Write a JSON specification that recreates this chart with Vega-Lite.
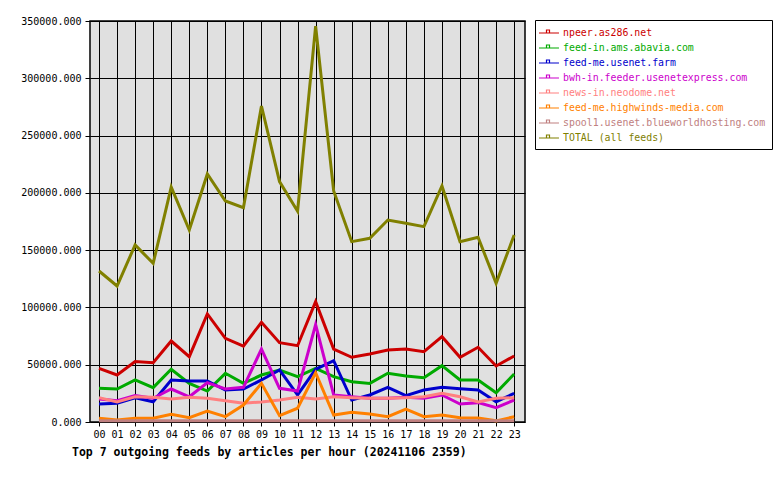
{
  "$schema": "https://vega.github.io/schema/vega-lite/v6.json",
  "width": 435,
  "height": 401,
  "autosize": {"type": "none"},
  "padding": {"left": 90, "top": 21, "right": 255, "bottom": 58},
  "background": "white",
  "config": {
    "view": {"fill": "#e0e0e0", "stroke": "black", "strokeWidth": 1.5},
    "font": "DejaVu Sans Mono"
  },
  "title": {
    "text": "Top 7 outgoing feeds by articles per hour (20241106 2359)",
    "orient": "bottom",
    "anchor": "start",
    "frame": "group",
    "dx": -18,
    "offset": 8,
    "font": "DejaVu Sans Mono",
    "fontSize": 11.5,
    "fontWeight": "bold",
    "color": "black"
  },
  "datasets": {
    "feeds": [
      {"h":0,"f":"npeer.as286.net","v":46800},{"h":1,"f":"npeer.as286.net","v":41000},{"h":2,"f":"npeer.as286.net","v":52700},{"h":3,"f":"npeer.as286.net","v":51800},{"h":4,"f":"npeer.as286.net","v":70700},{"h":5,"f":"npeer.as286.net","v":57000},{"h":6,"f":"npeer.as286.net","v":94300},{"h":7,"f":"npeer.as286.net","v":73000},{"h":8,"f":"npeer.as286.net","v":66300},{"h":9,"f":"npeer.as286.net","v":87000},{"h":10,"f":"npeer.as286.net","v":69200},{"h":11,"f":"npeer.as286.net","v":66600},{"h":12,"f":"npeer.as286.net","v":105000},{"h":13,"f":"npeer.as286.net","v":63700},{"h":14,"f":"npeer.as286.net","v":56500},{"h":15,"f":"npeer.as286.net","v":59300},{"h":16,"f":"npeer.as286.net","v":62800},{"h":17,"f":"npeer.as286.net","v":63700},{"h":18,"f":"npeer.as286.net","v":61400},{"h":19,"f":"npeer.as286.net","v":74500},{"h":20,"f":"npeer.as286.net","v":56500},{"h":21,"f":"npeer.as286.net","v":65200},{"h":22,"f":"npeer.as286.net","v":48900},{"h":23,"f":"npeer.as286.net","v":57600},
      {"h":0,"f":"feed-in.ams.abavia.com","v":29400},{"h":1,"f":"feed-in.ams.abavia.com","v":28800},{"h":2,"f":"feed-in.ams.abavia.com","v":36700},{"h":3,"f":"feed-in.ams.abavia.com","v":30000},{"h":4,"f":"feed-in.ams.abavia.com","v":46000},{"h":5,"f":"feed-in.ams.abavia.com","v":33700},{"h":6,"f":"feed-in.ams.abavia.com","v":27000},{"h":7,"f":"feed-in.ams.abavia.com","v":42500},{"h":8,"f":"feed-in.ams.abavia.com","v":33700},{"h":9,"f":"feed-in.ams.abavia.com","v":41000},{"h":10,"f":"feed-in.ams.abavia.com","v":45400},{"h":11,"f":"feed-in.ams.abavia.com","v":39600},{"h":12,"f":"feed-in.ams.abavia.com","v":46800},{"h":13,"f":"feed-in.ams.abavia.com","v":39600},{"h":14,"f":"feed-in.ams.abavia.com","v":35200},{"h":15,"f":"feed-in.ams.abavia.com","v":33700},{"h":16,"f":"feed-in.ams.abavia.com","v":42500},{"h":17,"f":"feed-in.ams.abavia.com","v":40100},{"h":18,"f":"feed-in.ams.abavia.com","v":38700},{"h":19,"f":"feed-in.ams.abavia.com","v":49200},{"h":20,"f":"feed-in.ams.abavia.com","v":36700},{"h":21,"f":"feed-in.ams.abavia.com","v":36700},{"h":22,"f":"feed-in.ams.abavia.com","v":25600},{"h":23,"f":"feed-in.ams.abavia.com","v":41900},
      {"h":0,"f":"feed-me.usenet.farm","v":15700},{"h":1,"f":"feed-me.usenet.farm","v":16300},{"h":2,"f":"feed-me.usenet.farm","v":21200},{"h":3,"f":"feed-me.usenet.farm","v":17700},{"h":4,"f":"feed-me.usenet.farm","v":36700},{"h":5,"f":"feed-me.usenet.farm","v":35800},{"h":6,"f":"feed-me.usenet.farm","v":35800},{"h":7,"f":"feed-me.usenet.farm","v":27900},{"h":8,"f":"feed-me.usenet.farm","v":28800},{"h":9,"f":"feed-me.usenet.farm","v":36700},{"h":10,"f":"feed-me.usenet.farm","v":45400},{"h":11,"f":"feed-me.usenet.farm","v":23600},{"h":12,"f":"feed-me.usenet.farm","v":46000},{"h":13,"f":"feed-me.usenet.farm","v":53500},{"h":14,"f":"feed-me.usenet.farm","v":19200},{"h":15,"f":"feed-me.usenet.farm","v":23600},{"h":16,"f":"feed-me.usenet.farm","v":30300},{"h":17,"f":"feed-me.usenet.farm","v":23000},{"h":18,"f":"feed-me.usenet.farm","v":27900},{"h":19,"f":"feed-me.usenet.farm","v":30300},{"h":20,"f":"feed-me.usenet.farm","v":29000},{"h":21,"f":"feed-me.usenet.farm","v":27900},{"h":22,"f":"feed-me.usenet.farm","v":17700},{"h":23,"f":"feed-me.usenet.farm","v":25000},
      {"h":0,"f":"bwh-in.feeder.usenetexpress.com","v":20000},{"h":1,"f":"bwh-in.feeder.usenetexpress.com","v":18600},{"h":2,"f":"bwh-in.feeder.usenetexpress.com","v":23000},{"h":3,"f":"bwh-in.feeder.usenetexpress.com","v":20700},{"h":4,"f":"bwh-in.feeder.usenetexpress.com","v":28800},{"h":5,"f":"bwh-in.feeder.usenetexpress.com","v":22000},{"h":6,"f":"bwh-in.feeder.usenetexpress.com","v":34300},{"h":7,"f":"bwh-in.feeder.usenetexpress.com","v":28800},{"h":8,"f":"bwh-in.feeder.usenetexpress.com","v":30300},{"h":9,"f":"bwh-in.feeder.usenetexpress.com","v":63700},{"h":10,"f":"bwh-in.feeder.usenetexpress.com","v":29400},{"h":11,"f":"bwh-in.feeder.usenetexpress.com","v":27000},{"h":12,"f":"bwh-in.feeder.usenetexpress.com","v":85000},{"h":13,"f":"bwh-in.feeder.usenetexpress.com","v":23600},{"h":14,"f":"bwh-in.feeder.usenetexpress.com","v":22000},{"h":15,"f":"bwh-in.feeder.usenetexpress.com","v":20700},{"h":16,"f":"bwh-in.feeder.usenetexpress.com","v":20700},{"h":17,"f":"bwh-in.feeder.usenetexpress.com","v":21500},{"h":18,"f":"bwh-in.feeder.usenetexpress.com","v":20700},{"h":19,"f":"bwh-in.feeder.usenetexpress.com","v":23600},{"h":20,"f":"bwh-in.feeder.usenetexpress.com","v":15700},{"h":21,"f":"bwh-in.feeder.usenetexpress.com","v":16900},{"h":22,"f":"bwh-in.feeder.usenetexpress.com","v":12500},{"h":23,"f":"bwh-in.feeder.usenetexpress.com","v":19200},
      {"h":0,"f":"news-in.neodome.net","v":21300},{"h":1,"f":"news-in.neodome.net","v":17500},{"h":2,"f":"news-in.neodome.net","v":22000},{"h":3,"f":"news-in.neodome.net","v":21500},{"h":4,"f":"news-in.neodome.net","v":20000},{"h":5,"f":"news-in.neodome.net","v":21500},{"h":6,"f":"news-in.neodome.net","v":20700},{"h":7,"f":"news-in.neodome.net","v":18600},{"h":8,"f":"news-in.neodome.net","v":16300},{"h":9,"f":"news-in.neodome.net","v":17500},{"h":10,"f":"news-in.neodome.net","v":19200},{"h":11,"f":"news-in.neodome.net","v":21500},{"h":12,"f":"news-in.neodome.net","v":20000},{"h":13,"f":"news-in.neodome.net","v":22000},{"h":14,"f":"news-in.neodome.net","v":21200},{"h":15,"f":"news-in.neodome.net","v":20700},{"h":16,"f":"news-in.neodome.net","v":20700},{"h":17,"f":"news-in.neodome.net","v":21200},{"h":18,"f":"news-in.neodome.net","v":22000},{"h":19,"f":"news-in.neodome.net","v":25000},{"h":20,"f":"news-in.neodome.net","v":22000},{"h":21,"f":"news-in.neodome.net","v":17500},{"h":22,"f":"news-in.neodome.net","v":20700},{"h":23,"f":"news-in.neodome.net","v":21200},
      {"h":0,"f":"feed-me.highwinds-media.com","v":3200},{"h":1,"f":"feed-me.highwinds-media.com","v":1700},{"h":2,"f":"feed-me.highwinds-media.com","v":3200},{"h":3,"f":"feed-me.highwinds-media.com","v":3200},{"h":4,"f":"feed-me.highwinds-media.com","v":6700},{"h":5,"f":"feed-me.highwinds-media.com","v":3800},{"h":6,"f":"feed-me.highwinds-media.com","v":9600},{"h":7,"f":"feed-me.highwinds-media.com","v":4700},{"h":8,"f":"feed-me.highwinds-media.com","v":14800},{"h":9,"f":"feed-me.highwinds-media.com","v":33700},{"h":10,"f":"feed-me.highwinds-media.com","v":5500},{"h":11,"f":"feed-me.highwinds-media.com","v":12000},{"h":12,"f":"feed-me.highwinds-media.com","v":43000},{"h":13,"f":"feed-me.highwinds-media.com","v":6100},{"h":14,"f":"feed-me.highwinds-media.com","v":8400},{"h":15,"f":"feed-me.highwinds-media.com","v":7000},{"h":16,"f":"feed-me.highwinds-media.com","v":4600},{"h":17,"f":"feed-me.highwinds-media.com","v":11300},{"h":18,"f":"feed-me.highwinds-media.com","v":4600},{"h":19,"f":"feed-me.highwinds-media.com","v":6100},{"h":20,"f":"feed-me.highwinds-media.com","v":3800},{"h":21,"f":"feed-me.highwinds-media.com","v":3500},{"h":22,"f":"feed-me.highwinds-media.com","v":1000},{"h":23,"f":"feed-me.highwinds-media.com","v":4600},
      {"h":0,"f":"spool1.usenet.blueworldhosting.com","v":1200},{"h":1,"f":"spool1.usenet.blueworldhosting.com","v":1200},{"h":2,"f":"spool1.usenet.blueworldhosting.com","v":1200},{"h":3,"f":"spool1.usenet.blueworldhosting.com","v":1200},{"h":4,"f":"spool1.usenet.blueworldhosting.com","v":1200},{"h":5,"f":"spool1.usenet.blueworldhosting.com","v":1200},{"h":6,"f":"spool1.usenet.blueworldhosting.com","v":1200},{"h":7,"f":"spool1.usenet.blueworldhosting.com","v":1200},{"h":8,"f":"spool1.usenet.blueworldhosting.com","v":1200},{"h":9,"f":"spool1.usenet.blueworldhosting.com","v":1200},{"h":10,"f":"spool1.usenet.blueworldhosting.com","v":1200},{"h":11,"f":"spool1.usenet.blueworldhosting.com","v":1200},{"h":12,"f":"spool1.usenet.blueworldhosting.com","v":1200},{"h":13,"f":"spool1.usenet.blueworldhosting.com","v":1200},{"h":14,"f":"spool1.usenet.blueworldhosting.com","v":1200},{"h":15,"f":"spool1.usenet.blueworldhosting.com","v":1200},{"h":16,"f":"spool1.usenet.blueworldhosting.com","v":1200},{"h":17,"f":"spool1.usenet.blueworldhosting.com","v":1200},{"h":18,"f":"spool1.usenet.blueworldhosting.com","v":1200},{"h":19,"f":"spool1.usenet.blueworldhosting.com","v":1200},{"h":20,"f":"spool1.usenet.blueworldhosting.com","v":1200},{"h":21,"f":"spool1.usenet.blueworldhosting.com","v":1200},{"h":22,"f":"spool1.usenet.blueworldhosting.com","v":1200},{"h":23,"f":"spool1.usenet.blueworldhosting.com","v":1200},
      {"h":0,"f":"TOTAL (all feeds)","v":131800},{"h":1,"f":"TOTAL (all feeds)","v":118700},{"h":2,"f":"TOTAL (all feeds)","v":154500},{"h":3,"f":"TOTAL (all feeds)","v":138500},{"h":4,"f":"TOTAL (all feeds)","v":205000},{"h":5,"f":"TOTAL (all feeds)","v":167600},{"h":6,"f":"TOTAL (all feeds)","v":216500},{"h":7,"f":"TOTAL (all feeds)","v":192900},{"h":8,"f":"TOTAL (all feeds)","v":187000},{"h":9,"f":"TOTAL (all feeds)","v":275800},{"h":10,"f":"TOTAL (all feeds)","v":209800},{"h":11,"f":"TOTAL (all feeds)","v":184000},{"h":12,"f":"TOTAL (all feeds)","v":345600},{"h":13,"f":"TOTAL (all feeds)","v":201600},{"h":14,"f":"TOTAL (all feeds)","v":157400},{"h":15,"f":"TOTAL (all feeds)","v":160300},{"h":16,"f":"TOTAL (all feeds)","v":176300},{"h":17,"f":"TOTAL (all feeds)","v":173400},{"h":18,"f":"TOTAL (all feeds)","v":170500},{"h":19,"f":"TOTAL (all feeds)","v":206000},{"h":20,"f":"TOTAL (all feeds)","v":157400},{"h":21,"f":"TOTAL (all feeds)","v":161200},{"h":22,"f":"TOTAL (all feeds)","v":121000},{"h":23,"f":"TOTAL (all feeds)","v":163200}
    ]
  },
  "data": {"name": "feeds"},
  "mark": {"type": "line", "strokeWidth": 3, "strokeJoin": "miter", "strokeCap": "butt"},
  "encoding": {
    "x": {
      "field": "h",
      "type": "quantitative",
      "scale": {"domain": [-0.5, 23.6], "nice": false, "zero": false},
      "axis": {
        "title": null,
        "values": [0,1,2,3,4,5,6,7,8,9,10,11,12,13,14,15,16,17,18,19,20,21,22,23],
        "format": "02d",
        "grid": true,
        "gridColor": "black",
        "gridOpacity": 1,
        "gridWidth": 1,
        "domain": false,
        "tickColor": "black",
        "tickSize": 4,
        "labelPadding": 3,
        "labelFont": "DejaVu Sans Mono",
        "labelFontSize": 10,
        "labelColor": "black",
        "labelFlush": false
      }
    },
    "y": {
      "field": "v",
      "type": "quantitative",
      "scale": {"domain": [0, 350000], "nice": false},
      "axis": {
        "title": null,
        "values": [0, 50000, 100000, 150000, 200000, 250000, 300000, 350000],
        "format": ".3f",
        "grid": true,
        "gridColor": "black",
        "gridOpacity": 1,
        "gridWidth": 1,
        "domain": false,
        "tickColor": "black",
        "tickSize": 5,
        "labelPadding": 4,
        "labelFont": "DejaVu Sans Mono",
        "labelFontSize": 10,
        "labelColor": "black",
        "labelFlush": false
      }
    },
    "color": {
      "field": "f",
      "type": "nominal",
      "sort": null,
      "scale": {
        "domain": ["npeer.as286.net", "feed-in.ams.abavia.com", "feed-me.usenet.farm", "bwh-in.feeder.usenetexpress.com", "news-in.neodome.net", "feed-me.highwinds-media.com", "spool1.usenet.blueworldhosting.com", "TOTAL (all feeds)"],
        "range": ["#cc0000", "#00aa00", "#0000cc", "#cc00cc", "#ff8080", "#ff8000", "#c08080", "#808000"]
      },
      "legend": {
        "title": null,
        "orient": "none",
        "legendX": 445,
        "legendY": -1,
        "direction": "vertical",
        "fillColor": "white",
        "strokeColor": "black",
        "padding": 6,
        "symbolType": "M-1.5,0H1.83M-0.25,-0.5H0.25V0H-0.25Z",
        "symbolSize": 144,
        "symbolStrokeWidth": 1.2,
        "labelOffset": 8,
        "rowPadding": 3,
        "labelFont": "DejaVu Sans Mono",
        "labelFontSize": 9.9,
        "labelLimit": 400,
        "encode": {
          "labels": {"update": {"fill": {"scale": "color", "field": "value"}}}
        }
      }
    }
  }
}
